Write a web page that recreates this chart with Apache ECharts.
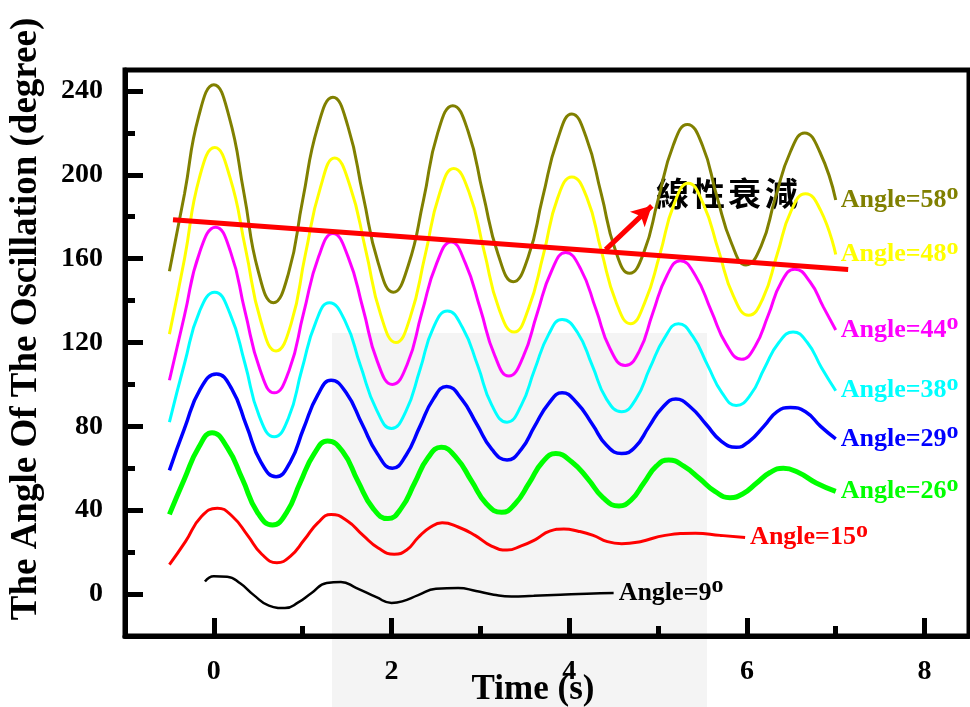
<!DOCTYPE html>
<html>
<head>
<meta charset="utf-8">
<script src="https://cdn.jsdelivr.net/npm/echarts@6/dist/echarts.min.js"></script>
<style>
  html, body { margin: 0; padding: 0; background: #fff; }
  #main { width: 970px; height: 707px; }
</style>
</head>
<body>
<div id="main"></div>
<script>
// [time (s), angle (degree)]
const angle58 = [
  [-0.5,154],[-0.33,191],[-0.17,228],[0,243],
  [0.17,228],[0.34,191],[0.5,154],[0.67,139],
  [0.84,153],[1.0,188],[1.17,223],[1.34,237],
  [1.51,223],[1.68,190],[1.85,158],[2.02,144],
  [2.19,157],[2.36,188],[2.52,220],[2.69,233],
  [2.86,221],[3.03,191],[3.2,162],[3.37,149],
  [3.54,161],[3.7,189],[3.87,217],[4.03,229],
  [4.19,218],[4.36,191],[4.52,164],[4.68,153],
  [4.84,163],[5.0,188],[5.17,214],[5.33,224],
  [5.5,214],[5.66,190],[5.83,167],[5.99,157],
  [6.16,166],[6.32,189],[6.49,211],[6.65,220],
  [6.82,211],[7.0,188]
]
const angle48 = [
  [-0.5,124],[-0.33,160],[-0.16,199],[0.01,213],
  [0.18,199],[0.36,164],[0.53,130],[0.7,116],
  [0.87,129],[1.03,162],[1.2,194],[1.36,208],
  [1.53,195],[1.71,164],[1.88,133],[2.05,120],
  [2.21,132],[2.38,162],[2.54,191],[2.7,203],
  [2.87,192],[3.04,164],[3.21,136],[3.38,125],
  [3.54,136],[3.71,162],[3.87,189],[4.03,199],
  [4.2,189],[4.36,164],[4.53,139],[4.69,129],
  [4.85,139],[5.02,162],[5.18,186],[5.34,196],
  [5.51,186],[5.68,164],[5.85,142],[6.02,133],
  [6.18,141],[6.34,162],[6.5,183],[6.66,191],
  [6.83,183],[7.0,162]
]
const angle44 = [
  [-0.5,102],[-0.33,133],[-0.16,163],[0.02,175],
  [0.19,163],[0.35,135],[0.52,107],[0.68,96],
  [0.85,107],[1.01,134],[1.18,161],[1.34,172],
  [1.51,161],[1.68,136],[1.84,111],[2.01,100],
  [2.18,110],[2.34,134],[2.51,158],[2.67,168],
  [2.83,158],[3.0,136],[3.16,114],[3.32,104],
  [3.48,113],[3.64,134],[3.8,154],[3.96,163],
  [4.13,155],[4.3,136],[4.46,117],[4.63,109],
  [4.79,116],[4.94,134],[5.1,152],[5.25,159],
  [5.42,152],[5.6,135],[5.77,119],[5.94,112],
  [6.09,118],[6.24,133],[6.39,149],[6.54,155],
  [6.71,149],[6.86,137],[7.0,126]
]
const angle38 = [
  [-0.5,82],[-0.33,110],[-0.16,135],[0.01,144],
  [0.18,134],[0.35,110],[0.51,85],[0.68,75],
  [0.84,84],[0.99,107],[1.15,130],[1.3,139],
  [1.48,130],[1.65,109],[1.83,88],[2.0,79],
  [2.16,87],[2.32,107],[2.47,127],[2.63,135],
  [2.8,127],[2.97,109],[3.13,90],[3.3,82],
  [3.46,90],[3.61,107],[3.77,124],[3.92,131],
  [4.09,125],[4.26,109],[4.42,93],[4.59,87],
  [4.75,93],[4.91,108],[5.07,122],[5.23,129],
  [5.39,123],[5.56,109],[5.72,96],[5.88,90],
  [6.04,95],[6.2,108],[6.36,120],[6.52,125],
  [6.68,120],[6.84,108],[7.0,97]
]
const angle29 = [
  [-0.5,59],[-0.33,79],[-0.15,98],[0.03,105],
  [0.2,98],[0.37,80],[0.53,63],[0.7,56],
  [0.86,63],[1.01,79],[1.17,95],[1.32,102],
  [1.49,96],[1.67,81],[1.84,67],[2.01,60],
  [2.16,66],[2.32,80],[2.47,93],[2.62,99],
  [2.79,93],[2.96,81],[3.13,69],[3.3,64],
  [3.46,69],[3.61,80],[3.77,91],[3.92,96],
  [4.09,91],[4.26,81],[4.42,71],[4.59,67],
  [4.74,70],[4.9,80],[5.05,89],[5.2,93],
  [5.37,89],[5.54,81],[5.71,73],[5.88,70],
  [6.03,73],[6.19,80],[6.34,87],[6.49,89],
  [6.66,87],[6.83,80],[7.0,74]
]
const angle26 = [
  [-0.5,38],[-0.33,55],[-0.17,70],[-0.02,77],
  [0.15,70],[0.32,55],[0.49,39],[0.66,33],
  [0.82,39],[0.97,53],[1.13,67],[1.28,73],
  [1.45,68],[1.62,54],[1.79,41],[1.96,36],
  [2.11,41],[2.26,53],[2.41,65],[2.56,70],
  [2.73,65],[2.9,54],[3.07,43],[3.24,39],
  [3.39,43],[3.55,53],[3.7,63],[3.85,67],
  [4.03,63],[4.21,55],[4.38,46],[4.56,42],
  [4.7,45],[4.84,53],[4.98,61],[5.12,64],
  [5.29,61],[5.47,55],[5.64,49],[5.81,46],
  [5.96,48],[6.11,53],[6.26,58],[6.41,60],
  [6.58,58],[6.78,53],[7.0,49]
]
const angle15 = [
  [-0.5,14],[-0.32,25],[-0.14,37],[0.04,41],
  [0.21,37],[0.38,28],[0.54,19],[0.71,15],
  [0.86,18],[1.02,26],[1.17,34],[1.32,38],
  [1.5,35],[1.68,28],[1.85,22],[2.03,19],
  [2.17,21],[2.3,27],[2.44,32],[2.57,34],
  [2.75,32],[2.94,28],[3.12,23],[3.3,21],
  [3.46,23],[3.62,26],[3.78,30],[3.94,31],
  [4.1,30],[4.27,28],[4.43,25],[4.59,24],
  [4.8,25],[5.08,28],[5.42,29],[5.7,28],[5.98,27]
]
const angle9 = [
  [-0.1,6],[0,8.5],[0.15,8.3],[0.3,5],[0.45,-0.5],[0.62,-5.5],[0.8,-6.7],
  [0.95,-4],[1.1,0.5],[1.27,5.3],[1.43,5.8],[1.6,3],[1.83,-1.5],[2.0,-4.2],
  [2.12,-3.5],[2.3,-0.5],[2.5,2.5],[2.75,2.9],[2.95,1.5],[3.15,-0.3],[3.35,-1.2],
  [3.6,-0.8],[3.9,-0.3],[4.2,0.2],[4.5,0.5]
]

// red "linear decay" guide line and the arrow pointing at the note
const decayLine = [[-0.46, 178.6], [7.14, 154.8]]
const arrowFrom = [4.41, 164.3]
const arrowTo = [4.93, 185.2]

const xMajor = [0, 2, 4, 6, 8]
const xMinor = [1, 3, 5, 7]
const yMajor = [0, 40, 80, 120, 160, 200, 240]
const yMinor = [20, 60, 100, 140, 180, 220]

const serif = "'Liberation Serif', 'Times New Roman', serif"
const cjkFont = "bold 33px 'Noto Sans CJK TC'"

function angleSeries(data, color, width, text) {
  return {
    type: 'line',
    data: data,
    smooth: true,
    symbol: 'none',
    lineStyle: { color: color, width: width },
    endLabel: {
      show: true,
      distance: 5,
      formatter: text + '{o|o}',
      color: color,
      fontFamily: serif,
      fontWeight: 'bold',
      fontSize: 26,
      rich: {
        o: { color: color, fontFamily: serif, fontWeight: 'bold', fontSize: 24, padding: [0, 0, 14, 0] }
      }
    }
  }
}

const chart = echarts.init(document.getElementById('main'))

const option = {
  animation: false,
  backgroundColor: '#fff',
  grid: {
    left: 125, right: 1, top: 70, bottom: 71,
    outerBoundsMode: 'none',
    show: true, borderColor: '#000', borderWidth: 5
  },
  xAxis: [
    {
      type: 'value', min: -1, max: 8.5,
      name: 'Time (s)', nameLocation: 'middle', nameGap: 36, nameMoveOverlap: false,
      nameTextStyle: { fontFamily: serif, fontWeight: 'bold', fontSize: 35, color: '#000', padding: [0, 28, 0, 0] },
      axisLine: { onZero: false, lineStyle: { color: '#000', width: 5 } },
      axisTick: { inside: true, length: 18, lineStyle: { color: '#000', width: 5 }, customValues: xMajor },
      axisLabel: { customValues: xMajor, margin: 22, fontFamily: serif, fontWeight: 'bold', fontSize: 28, color: '#000' },
      splitLine: { show: false }
    },
    {
      type: 'value', min: -1, max: 8.5, position: 'bottom',
      axisLine: { show: false, onZero: false },
      axisTick: { inside: true, length: 10, lineStyle: { color: '#000', width: 5 }, customValues: xMinor },
      axisLabel: { show: false },
      splitLine: { show: false }
    }
  ],
  yAxis: [
    {
      type: 'value', min: -20, max: 250,
      name: 'The Angle Of The Oscillation (degree)', nameLocation: 'middle', nameGap: 80,
      nameTextStyle: { fontFamily: serif, fontWeight: 'bold', fontSize: 37, color: '#000', padding: [0, 0, 0, 68] },
      axisLine: { show: true, onZero: false, lineStyle: { color: '#000', width: 5 } },
      axisTick: { show: true, inside: true, length: 18, lineStyle: { color: '#000', width: 5 }, customValues: yMajor },
      axisLabel: { customValues: yMajor, margin: 22, fontFamily: serif, fontWeight: 'bold', fontSize: 28, color: '#000' },
      splitLine: { show: false }
    },
    {
      type: 'value', min: -20, max: 250, position: 'left',
      axisLine: { show: false, onZero: false },
      axisTick: { show: true, inside: true, length: 10, lineStyle: { color: '#000', width: 5 }, customValues: yMinor },
      axisLabel: { show: false },
      splitLine: { show: false }
    }
  ],
  graphic: [
    // faint watermark block behind the plot
    { type: 'rect', z: -10, shape: { x: 332, y: 333, width: 375, height: 374 }, style: { fill: '#f4f4f4' } },
    { type: 'text', left: 656, top: 177, style: { text: '線', font: cjkFont, fill: '#000' } },
    { type: 'text', left: 692, top: 177, style: { text: '性', font: cjkFont, fill: '#000' } },
    { type: 'text', left: 728, top: 177, style: { text: '衰', font: cjkFont, fill: '#000' } },
    { type: 'text', left: 765, top: 177, style: { text: '減', font: cjkFont, fill: '#000' } }
  ],
  series: [
    angleSeries(angle58, '#808000', 3, 'Angle=58'),
    angleSeries(angle48, '#ffff00', 3, 'Angle=48'),
    angleSeries(angle44, '#ff00ff', 3, 'Angle=44'),
    angleSeries(angle38, '#00ffff', 3, 'Angle=38'),
    angleSeries(angle29, '#0000ff', 3.5, 'Angle=29'),
    angleSeries(angle26, '#00ff00', 5, 'Angle=26'),
    angleSeries(angle15, '#ff0000', 3, 'Angle=15'),
    angleSeries(angle9, '#000000', 2.5, 'Angle=9'),
    {
      type: 'line',
      data: decayLine,
      symbol: 'none',
      lineStyle: { color: '#ff0000', width: 5 },
      markLine: {
        silent: true,
        symbol: ['none', 'arrow'],
        symbolSize: [16, 20],
        label: { show: false },
        lineStyle: { color: '#ff0000', width: 5, type: 'solid' },
        data: [[{ coord: arrowFrom }, { coord: arrowTo }]]
      }
    }
  ]
}

chart.setOption(option)
</script>
</body>
</html>
